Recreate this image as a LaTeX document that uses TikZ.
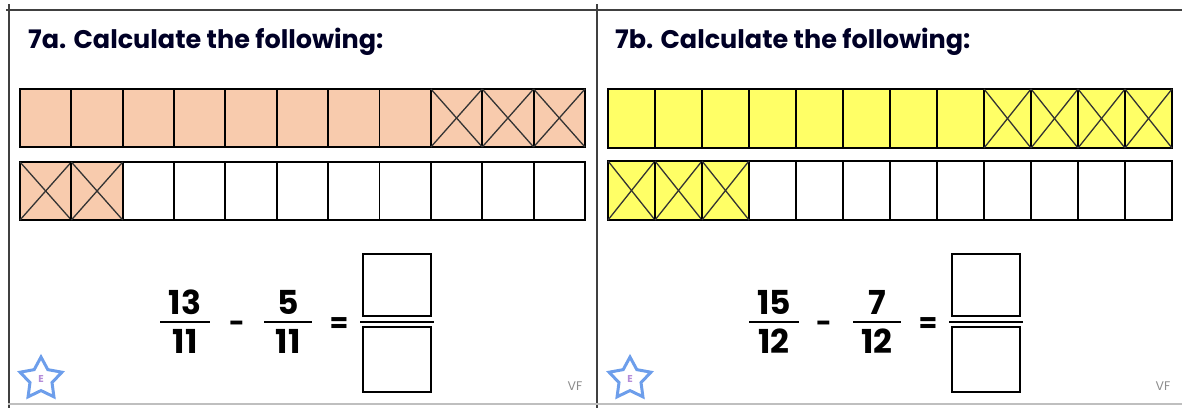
\documentclass[tikz,border=0pt]{standalone}
\usepackage{fontspec}
\setmainfont{Poppins}
\usetikzlibrary{shapes.geometric}
\definecolor{peach}{HTML}{F8CBAD}
\definecolor{lemon}{HTML}{FFFF66}
\definecolor{framegray}{HTML}{404040}
\definecolor{rulegray}{HTML}{BFBFBF}
\definecolor{starblue}{HTML}{6D9EEB}
\definecolor{letterpink}{HTML}{B48CD8}
\tikzset{
  cell/.style={draw=black, line width=1.9pt},
  cross/.style={draw=black!80, line width=1.3pt},
  title text/.style={anchor=base west, inner sep=0pt, font=\bfseries\fontsize{25.5}{30}\selectfont, text=black!85!blue},
  digit/.style={anchor=base, inner sep=0pt, font=\bfseries\fontsize{33}{36}\selectfont},
  sign/.style={anchor=base, inner sep=0pt, font=\bfseries\fontsize{27}{30}\selectfont},
  frac bar/.style={line width=1.8pt},
  answer box/.style={draw, line width=2pt, inner sep=0pt},
  badge/.style={star, star points=5, star point ratio=1.9, minimum size=44pt, draw=starblue, line width=3pt, inner sep=0pt, text=letterpink, font=\bfseries\fontsize{10}{11}\selectfont},
  initials/.style={inner sep=0pt, font=\fontsize{12.5}{14}\selectfont, text=black!45},
}

\begin{document}
\begin{tikzpicture}[x=1pt, y=-1pt]
  \useasboundingbox (0,0) rectangle (1182,408);
  % frame
  \draw[framegray, line width=2pt] (6,10) -- (1182,10);
  \draw[framegray, line width=2pt] (8.5,4) -- (8.5,408);
  \draw[framegray, line width=2pt] (597,4) -- (597,408);
  \draw[rulegray, line width=1.8pt] (8,404) -- (1182,404);

  % 7a
  \node[title text] (title a) at (28,48) {7a. Calculate the following:};
  \foreach \i in {0,...,10} {
    \path[cell, fill=peach] ({20+51.36*\i},89) rectangle ++(51.36,58);
  }
  \foreach \i in {0,...,10} {
    \path[cell, fill=white] ({20+51.36*\i},162) rectangle ++(51.36,58);
  }
  \foreach \i in {0,1} {
    \path[cell, fill=peach] ({20+51.36*\i},162) rectangle ++(51.36,58);
    \draw[cross] ({20+51.36*\i},162) -- ++(51.36,58);
    \draw[cross] ({20+51.36*(\i+1)},162) -- ++(-51.36,58);
  }
  \foreach \i in {8,9,10} {
    \draw[cross] ({20+51.36*\i},89) -- ++(51.36,58);
    \draw[cross] ({20+51.36*(\i+1)},89) -- ++(-51.36,58);
  }
  \node[digit] (num a1) at (185,314) {13};
  \node[digit] (den a1) at (185,353) {11};
  \draw[frac bar] (160,322) -- (210,322);
  \node[sign] (minus a) at (237,332) {-};
  \node[digit] (num a2) at (288,314) {5};
  \node[digit] (den a2) at (288,353) {11};
  \draw[frac bar] (264,322) -- (312,322);
  \node[sign] (equals a) at (339,332) {=};
  \node[answer box, minimum width=68pt, minimum height=62pt] (top box a) at (397,285) {};
  \node[answer box, minimum width=68pt, minimum height=65pt] (bottom box a) at (397,359.5) {};
  \draw[frac bar] ([xshift=-2pt, yshift=-5pt]top box a.south west) -- ([xshift=2pt, yshift=-5pt]top box a.south east);
  \node[badge] (star a) at (41,379) {E};
  \node[initials] (vf a) at (575,386) {VF};

  % 7b
  \node[title text] (title b) at (615,48) {7b. Calculate the following:};
  \foreach \i in {0,...,11} {
    \path[cell, fill=lemon] ({608+47*\i},89) rectangle ++(47,59);
  }
  \foreach \i in {0,...,11} {
    \path[cell, fill=white] ({608+47*\i},161) rectangle ++(47,59);
  }
  \foreach \i in {0,1,2} {
    \path[cell, fill=lemon] ({608+47*\i},161) rectangle ++(47,59);
    \draw[cross] ({608+47*\i},161) -- ++(47,59);
    \draw[cross] ({608+47*(\i+1)},161) -- ++(-47,59);
  }
  \foreach \i in {8,...,11} {
    \draw[cross] ({608+47*\i},89) -- ++(47,59);
    \draw[cross] ({608+47*(\i+1)},89) -- ++(-47,59);
  }
  \node[digit] (num b1) at (774,314) {15};
  \node[digit] (den b1) at (774,353) {12};
  \draw[frac bar] (749,322) -- (799,322);
  \node[sign] (minus b) at (824,332) {-};
  \node[digit] (num b2) at (877,314) {7};
  \node[digit] (den b2) at (877,353) {12};
  \draw[frac bar] (853,322) -- (901,322);
  \node[sign] (equals b) at (928,332) {=};
  \node[answer box, minimum width=68pt, minimum height=62pt] (top box b) at (986,285) {};
  \node[answer box, minimum width=68pt, minimum height=65pt] (bottom box b) at (986,359.5) {};
  \draw[frac bar] ([xshift=-2pt, yshift=-5pt]top box b.south west) -- ([xshift=2pt, yshift=-5pt]top box b.south east);
  \node[badge] (star b) at (630,379) {E};
  \node[initials] (vf b) at (1163,386) {VF};
\end{tikzpicture}
\end{document}
